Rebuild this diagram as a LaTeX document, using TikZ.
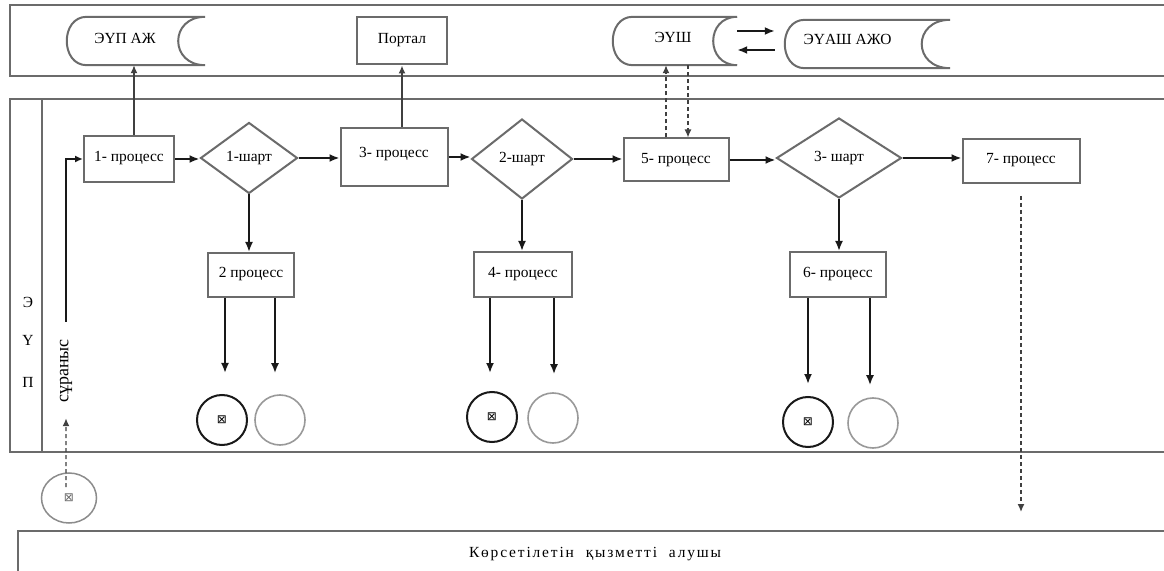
\documentclass[tikz,border=0pt]{standalone}
\usepackage{fontspec}
\setmainfont{Liberation Serif}
\newfontfamily\symfont{DejaVu Sans}
\usetikzlibrary{shapes.geometric,arrows.meta}
\newcommand\storedraw[3]{%
  \draw[ln] ([xshift=20pt]#1.north west) -- (#1.north east)
    .. controls ([xshift=-#3]#1.north east) and ([xshift=-#3]#1.south east) .. (#1.south east)
    -- ([xshift=20pt]#1.south west)
    .. controls ([xshift=-#2]#1.south west) and ([xshift=-#2]#1.north west) .. ([xshift=20pt]#1.north west);}
\begin{document}
\begin{tikzpicture}[x=1bp,y=1bp,
 ln/.style={draw=black!58,line width=2bp},
 arr/.style={draw=black!90,line width=1.9bp,-{Latex[length=10bp,width=8bp]}},
 darr/.style={draw=black!75,line width=1.4bp,dash pattern=on 4bp off 3bp,-{Latex[length=8bp,width=7bp]}},
 txt/.style={font=\fontsize{15.5}{17}\selectfont},
 box/.style 2 args={rectangle,ln,minimum width=#1,minimum height=#2,inner sep=0pt,txt},
 store/.style 2 args={rectangle,draw=none,minimum width=#1,minimum height=#2,inner sep=0pt,txt},
 dia/.style 2 args={diamond,ln,minimum width=#1,minimum height=#2,inner sep=0pt,txt},
 endc/.style={circle,draw=black!90,line width=2bp,minimum size=50bp,inner sep=0pt},
 endo/.style={circle,draw=black!40,line width=1.6bp,minimum size=50bp,inner sep=0pt},
]
\useasboundingbox (0,0) rectangle (1164,-571);
\fill[white] (0,0) rectangle (1164,-571);
% lanes
\draw[ln] (10,-5) rectangle (1185,-76);
\draw[ln] (10,-99) rectangle (1185,-452);
\draw[ln] (42,-99) -- (42,-452);
\node[txt] (lE) at (28,-302) {Э};
\node[txt] (lU) at (28,-340) {Ү};
\node[txt] (lP) at (28,-382) {П};
% top lane
\node[store={138bp}{48bp}] (eup) at (136,-41) {\raisebox{6pt}{\hspace*{-22pt}ЭҮП АЖ}};
\storedraw{eup}{6.7bp}{36bp}
\node[box={90bp}{47bp}] (portal) at (402,-41) {\raisebox{5pt}{Портал}};
\node[store={124bp}{48bp}] (eush) at (675,-41) {\raisebox{8pt}{\hspace*{-4pt}ЭҮШ}};
\storedraw{eush}{6.7bp}{32bp}
\node[store={165bp}{48bp}] (euash) at (867.5,-44) {\raisebox{9pt}{\hspace*{-40pt}ЭҮАШ АЖО}};
\storedraw{euash}{6.7bp}{38bp}
\draw[arr,shorten >=10bp] ([yshift=10bp]eush.east) -- ([yshift=13bp]euash.west);
\draw[arr,shorten <=10bp] ([yshift=-6bp]euash.west) -- ([yshift=-9bp]eush.east);
% main row
\node[box={90bp}{46bp}] (p1) at (129,-159) {\raisebox{5pt}{1- процесс}};
\node[dia={97bp}{71bp}] (d1) at (249,-158) {1-шарт};
\node[box={107bp}{58bp}] (p3) at (394,-157) {\raisebox{9pt}{3- процесс}};
\node[dia={101bp}{80bp}] (d2) at (522,-159) {\raisebox{1pt}{2-шарт}};
\node[box={105bp}{43bp}] (p5) at (676,-160) {\raisebox{4pt}{5- процесс}};
\node[dia={125bp}{80bp}] (d3) at (839,-158) {3- шарт};
\node[box={117bp}{44bp}] (p7) at (1021,-161) {\raisebox{5pt}{7- процесс}};
\draw[arr] (p1.east) -- (p1.east -| d1.west);
\draw[arr] (d1.east) -- (d1.east -| p3.west);
\draw[arr] (p3.east) -- (p3.east -| d2.west);
\draw[arr] (d2.east) -- (d2.east -| p5.west);
\draw[arr] (p5.east) -- (p5.east -| d3.west);
\draw[arr] (d3.east) -- (d3.east -| p7.west);
\draw[ln,draw=black!75,line width=1.5bp,-{Latex[length=8bp,width=7bp]}] ([xshift=-2bp]eup.south |- p1.north) -- ([xshift=-2bp]eup.south);
\draw[ln,draw=black!75,line width=1.5bp,-{Latex[length=8bp,width=7bp]}] (portal.south |- p3.north) -- (portal.south);
\draw[darr] ([xshift=-10bp]p5.north) -- ([xshift=-10bp]p5.north |- eush.south);
\draw[darr] ([xshift=12bp]p5.north |- eush.south) -- ([xshift=12bp]p5.north);
% second row
\node[box={86bp}{44bp}] (p2) at (251,-275) {\raisebox{5pt}{2 процесс}};
\node[box={98bp}{45bp}] (p4) at (523,-274.5) {\raisebox{5pt}{4- процесс}};
\node[box={96bp}{45bp}] (p6) at (838,-274.5) {\raisebox{5pt}{6- процесс}};
\draw[arr] (d1.south) -- (d1.south |- p2.north);
\draw[arr] (d2.south) -- (d2.south |- p4.north);
\draw[arr] (d3.south) -- (d3.south |- p6.north);
% end events
\node[endc] (e1a) at (222,-420) {\symfont\fontsize{12}{12}\selectfont ⊠};
\node[endo] (e1b) at (280,-420) {};
\node[endc] (e2a) at (492,-417) {\symfont\fontsize{12}{12}\selectfont ⊠};
\node[endo] (e2b) at (553,-418) {};
\node[endc] (e3a) at (808,-422) {\symfont\fontsize{12}{12}\selectfont ⊠};
\node[endo] (e3b) at (873,-423) {};
\draw[arr,shorten >=21bp] ([xshift=3bp]e1a.north |- p2.south) -- ([xshift=3bp]e1a.north);
\draw[arr,shorten >=21bp] ([xshift=-5bp]e1b.north |- p2.south) -- ([xshift=-5bp]e1b.north);
\draw[arr,shorten >=18bp] ([xshift=-2bp]e2a.north |- p4.south) -- ([xshift=-2bp]e2a.north);
\draw[arr,shorten >=18bp] ([xshift=1bp]e2b.north |- p4.south) -- ([xshift=1bp]e2b.north);
\draw[arr,shorten >=12bp] (e3a.north |- p6.south) -- (e3a.north);
\draw[arr,shorten >=12bp] ([xshift=-3bp]e3b.north |- p6.south) -- ([xshift=-3bp]e3b.north);
% start
\node[ellipse,draw=black!45,line width=1.5bp,minimum width=55bp,minimum height=50bp,inner sep=0pt,text=black!60] (s0) at (69,-498) {\symfont\fontsize{12}{12}\selectfont ⊠};
\node[font=\fontsize{18}{18}\selectfont,rotate=90] (req) at (66,-371) {сұраныс};
\draw[darr,shorten >=12bp] ([xshift=-3bp,yshift=11bp]s0.center) -- (req.west);
\draw[ln,line width=1.6bp,draw=black!90,-{Latex[length=8bp,width=7bp]},shorten <=14bp] (req.east) |- (p1.west);
% receiver
\node[box={1170bp}{50bp},anchor=north west] (recv) at (17,-530) {\raisebox{7pt}{\hspace*{-16pt}\addfontfeature{LetterSpace=12}Көрсетілетін\hspace{12pt}қызметті\hspace{12pt}алушы}};
\draw[darr,shorten <=12bp,shorten >=18bp] (p7.south) -- (p7.south |- recv.north);
\end{tikzpicture}
\end{document}
